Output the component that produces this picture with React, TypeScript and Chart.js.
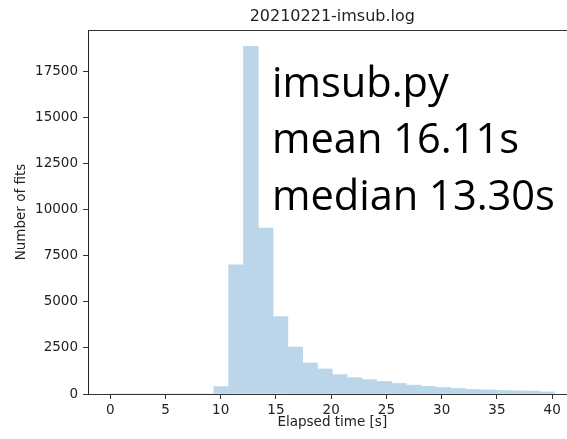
import React, { useEffect, useRef } from "react";
import { Chart, registerables } from "chart.js";

Chart.register(...registerables);

// Histogram bin centers (seconds), bin width ~1.34 s
const binCenters = [
  0.67, 2.01, 3.35, 4.69, 6.03, 7.37, 8.71, 10.05, 11.39, 12.73,
  14.07, 15.41, 16.75, 18.09, 19.43, 20.77, 22.11, 23.45, 24.79, 26.13,
  27.47, 28.81, 30.15, 31.49, 32.83, 34.17, 35.51, 36.85, 38.19, 39.53,
];
const counts = [
  0, 0, 0, 0, 0, 0, 0, 400, 7000, 18850,
  9000, 4200, 2550, 1680, 1360, 1050, 890, 780, 680, 570,
  480, 410, 350, 300, 250, 225, 190, 170, 165, 115,
];
const xTicks = [0, 5, 10, 15, 20, 25, 30, 35, 40];
const yTicks = [0, 2500, 5000, 7500, 10000, 12500, 15000, 17500];
const titleText = "20210221-imsub.log";
const xLabel = "Elapsed time [s]";
const yLabel = "Number of fits";
const overlayLines = ["imsub.py", "mean 16.11s", "median 13.30s"];

const FONT = "'DejaVu Sans', sans-serif";
const X_MIN = -2.01;
const X_MAX = 41.34;
const X_FULL_MAX = 42.21;

const decorPlugin = {
  id: "decor",
  afterDraw(chart: any) {
    const { ctx, chartArea } = chart;
    const pxPerUnit = (chartArea.right - chartArea.left) / (X_MAX - X_MIN);
    const fullRight = chartArea.left + (X_FULL_MAX - X_MIN) * pxPerUnit;
    ctx.save();
    // top spine
    ctx.strokeStyle = "#333";
    ctx.lineWidth = 1;
    ctx.beginPath();
    ctx.moveTo(chartArea.left, chartArea.top + 0.5);
    ctx.lineTo(chartArea.right, chartArea.top + 0.5);
    ctx.stroke();
    // title
    ctx.fillStyle = "#222";
    ctx.font = `16px ${FONT}`;
    ctx.textAlign = "center";
    ctx.textBaseline = "alphabetic";
    const cx = (chartArea.left + fullRight) / 2;
    ctx.fillText(titleText, cx, chartArea.top - 9);
    // x label
    ctx.font = `13.5px ${FONT}`;
    ctx.fillText(xLabel, cx, 426);
    // y label
    ctx.save();
    ctx.translate(25, (chartArea.top + chartArea.bottom) / 2);
    ctx.rotate(-Math.PI / 2);
    ctx.fillText(yLabel, 0, 0);
    ctx.restore();
    // overlay text
    ctx.fillStyle = "#000";
    ctx.textAlign = "left";
    ctx.font = `40px 'Open Sans', sans-serif`;
    const w = ctx.measureText(overlayLines[2]).width;
    const size = (40 * 283) / w;
    ctx.font = `${size}px 'Open Sans', sans-serif`;
    const baselines = [97, 153, 210];
    overlayLines.forEach((t, i) => ctx.fillText(t, 272, baselines[i]));
    ctx.restore();
  },
};

export default function App() {
  const ref = useRef<HTMLCanvasElement>(null);
  useEffect(() => {
    const canvas = ref.current!;
    const chart = new Chart(canvas, {
      type: "bar",
      data: {
        datasets: [
          {
            data: binCenters.map((x, i) => ({ x, y: counts[i] })),
            backgroundColor: "rgb(187,214,233)",
            borderWidth: 0,
            barPercentage: 1,
            categoryPercentage: 1,
          },
        ],
      },
      options: {
        responsive: false,
        animation: false,
        layout: { padding: { top: 30, left: 0, right: 0, bottom: 0 } },
        plugins: { legend: { display: false }, tooltip: { enabled: false }, title: { display: false } },
        scales: {
          x: {
            type: "linear",
            min: X_MIN,
            max: X_MAX,
            offset: false,
            afterFit: (s: any) => { s.height = 45; },
            afterBuildTicks: (s: any) => { s.ticks = xTicks.map((v) => ({ value: v })); },
            grid: { offset: false, drawOnChartArea: false, drawTicks: true, tickLength: 5, tickColor: "#333" },
            border: { display: true, color: "#333", width: 1 },
            ticks: {
              autoSkip: false,
              padding: 3,
              color: "#222",
              font: { family: FONT, size: 13.5 },
              maxRotation: 0,
              callback: (v: any) => String(v),
            },
          },
          y: {
            min: 0,
            max: 19740,
            afterFit: (s: any) => { s.width = 88; },
            afterBuildTicks: (s: any) => { s.ticks = yTicks.map((v) => ({ value: v })); },
            grid: { offset: false, drawOnChartArea: false, drawTicks: true, tickLength: 5, tickColor: "#333" },
            border: { display: true, color: "#222", width: 1 },
            ticks: {
              autoSkip: false,
              padding: 5,
              color: "#222",
              font: { family: FONT, size: 13.5 },
              callback: (v: any) => String(v),
            },
          },
        },
      },
      plugins: [decorPlugin],
    });
    return () => chart.destroy();
  }, []);
  return (
    <div style={{ position: "fixed", left: 0, top: 0, width: 567, height: 439, background: "#fff", overflow: "hidden" }}>
      <canvas ref={ref} width={567} height={439} />
    </div>
  );
}
